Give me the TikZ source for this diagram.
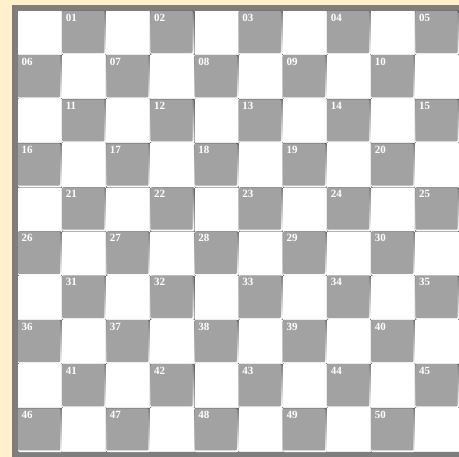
\documentclass[tikz,border=0pt]{standalone}
\usepackage{fontspec}
\setmainfont{Liberation Serif}
\definecolor{bg}{HTML}{FFF0CE}
\definecolor{frame}{HTML}{7E7E7E}
\definecolor{darkcell}{HTML}{A2A2A2}
\definecolor{shade}{HTML}{7C7C7C}
\tikzset{
  darkbox/.style={fill=darkcell, draw=none},
  lightbox/.style={fill=white, draw=none},
  lbl/.style={anchor=north west, inner sep=0pt, text=white, font=\fontsize{11}{11}\selectfont\bfseries},
}
\begin{document}
\begin{tikzpicture}[x=1pt,y=-1pt]
\useasboundingbox (0,0) rectangle (459,457);
\fill[bg] (0,0) rectangle (459,457);
\fill[frame] (12,5) rectangle (470,470);
\pgfmathsetmacro{\s}{44.15}
\foreach \r in {0,...,9}{
  \foreach \c in {0,...,9}{
    \pgfmathsetmacro{\xa}{18+\c*\s}
    \pgfmathsetmacro{\ya}{11+\r*\s}
    \pgfmathtruncatemacro{\isdark}{mod(\r+\c,2)}
    \ifnum\isdark=1
      \fill[shade, rounded corners=1.5pt] (\xa,\ya) rectangle (\xa+\s,\ya+\s);
      \fill[darkcell, rounded corners=1pt] (\xa,\ya) rectangle (\xa+\s-2,\ya+\s-2);
      \pgfmathtruncatemacro{\n}{\r*5+(\c-mod(\r+1,2))/2+1}
      \node[lbl] (l\r-\c) at (\xa+3.5,\ya+2.5) {\ifnum\n<10 0\fi\n};
    \else
      \fill[white!92!black] (\xa,\ya) rectangle (\xa+\s,\ya+\s);
      \fill[white] (\xa,\ya) rectangle (\xa+\s-1,\ya+\s-1);
    \fi
  }
}
\end{tikzpicture}
\end{document}
